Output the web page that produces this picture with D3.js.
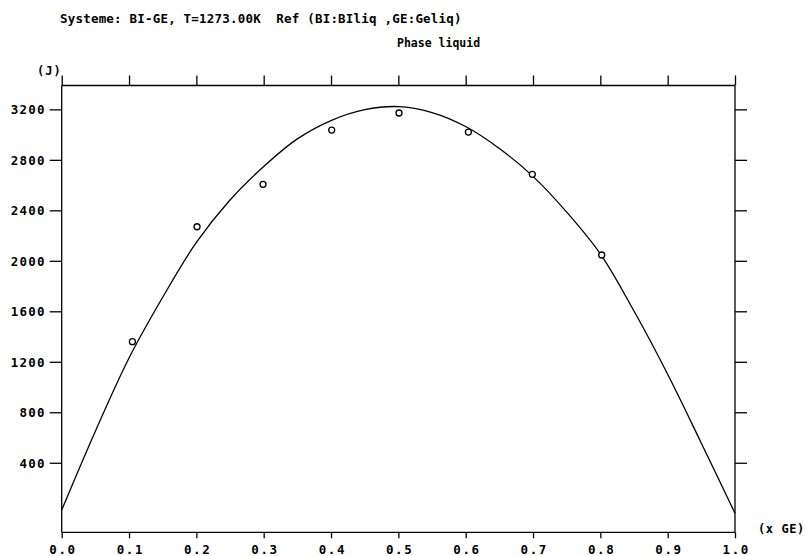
<!DOCTYPE html>
<html>
<head>
<meta charset="utf-8">
<script src="https://cdn.jsdelivr.net/npm/d3@7"></script>
<style>
  html, body { margin: 0; padding: 0; background: #fff; }
  svg { display: block; }
  text { font-family: "DejaVu Sans Mono", monospace; font-weight: bold; fill: #000; white-space: pre; }
</style>
</head>
<body>
<svg id="chart" width="811" height="556"></svg>
<script>
// ---- data ----
const titleText = "Systeme: BI-GE, T=1273.00K  Ref (BI:BIliq ,GE:Geliq)";
const subtitleText = "Phase liquid";
const yUnitLabel = "(J)";
const xUnitLabel = "(x GE)";

const xTicks = [0.0, 0.1, 0.2, 0.3, 0.4, 0.5, 0.6, 0.7, 0.8, 0.9, 1.0];
const yTicks = [400, 800, 1200, 1600, 2000, 2400, 2800, 3200];

// calculated curve (x GE, J)
const curveX = [0, 0.05, 0.1, 0.15, 0.2, 0.25, 0.3, 0.35, 0.4, 0.45, 0.5,
                0.55, 0.6, 0.65, 0.7, 0.75, 0.8, 0.85, 0.9, 0.95, 1.0];
const curveY = [25, 650, 1230, 1711, 2146, 2482, 2747, 2966, 3111, 3197, 3222,
                3175, 3064, 2890, 2669, 2386, 2055, 1602, 1101, 555, 0];

// experimental points
const pointX = [0.105, 0.201, 0.299, 0.401, 0.501, 0.604, 0.699, 0.802];
const pointY = [1359, 2270, 2606, 3036, 3171, 3020, 2685, 2046];

// ---- drawing ----
const svg = d3.select("#chart");
const mLeft = 61.7, mRight = 735, mTop = 85.5, mBottom = 532.3;

const x = d3.scaleLinear().domain([0, 1]).range([mLeft, mRight]);
const y = d3.scaleLinear().domain([-151, 3389]).range([mBottom, mTop]);

const stroke = "#000", sw = 1.3;

// frame
const frame = svg.append("g").attr("stroke", stroke).attr("stroke-width", sw).attr("fill", "none");
frame.append("line").attr("x1", mLeft).attr("x2", mRight).attr("y1", mTop).attr("y2", mTop);
frame.append("line").attr("x1", mLeft).attr("x2", mRight).attr("y1", mBottom).attr("y2", mBottom);
frame.append("line").attr("x1", mLeft).attr("x2", mLeft).attr("y1", mTop).attr("y2", mBottom);
frame.append("line").attr("x1", mRight).attr("x2", mRight).attr("y1", mTop).attr("y2", mBottom);

function styleAxis(g) {
  g.select(".domain").remove();
  g.selectAll(".tick line").attr("stroke", stroke).attr("stroke-width", sw);
  g.selectAll(".tick text")
    .style("font-family", '"DejaVu Sans Mono", monospace')
    .style("font-weight", "bold")
    .style("font-size", "12.5px")
    .attr("fill", "#000");
}

// left axis with labels
svg.append("g")
  .attr("transform", `translate(${mLeft},0)`)
  .call(d3.axisLeft(y).tickValues(yTicks).tickSize(12).tickPadding(4).tickFormat(d3.format("d")))
  .call(styleAxis)
  .call(g => g.selectAll(".tick text").attr("dy", "0.36em").style("letter-spacing", "1.2px"));

// right axis ticks
svg.append("g")
  .attr("transform", `translate(${mRight},0)`)
  .call(d3.axisRight(y).tickValues(yTicks).tickSize(12).tickFormat(""))
  .call(styleAxis);

// top axis ticks
svg.append("g")
  .attr("transform", `translate(0,${mTop})`)
  .call(d3.axisTop(x).tickValues(xTicks).tickSize(10).tickFormat(""))
  .call(styleAxis);

// bottom axis with labels
svg.append("g")
  .attr("transform", `translate(0,${mBottom})`)
  .call(d3.axisBottom(x).tickValues(xTicks).tickSize(6).tickPadding(6.5).tickFormat(d3.format(".1f")))
  .call(styleAxis)
  .call(g => g.selectAll(".tick text").style("letter-spacing", "1.6px").attr("dx", "0.8px"));

// curve
const line = d3.line().curve(d3.curveCatmullRom.alpha(0.5)).x(d => x(d[0])).y(d => y(d[1]));
const curveData = curveX.map((v, i) => [v, curveY[i]]);
svg.append("path")
  .datum(curveData)
  .attr("d", line)
  .attr("fill", "none")
  .attr("stroke", stroke)
  .attr("stroke-width", sw);

// points
svg.append("g").selectAll("circle")
  .data(pointX.map((v, i) => [v, pointY[i]]))
  .join("circle")
  .attr("cx", d => x(d[0]))
  .attr("cy", d => y(d[1]))
  .attr("r", 3)
  .attr("fill", "#fff")
  .attr("stroke", stroke)
  .attr("stroke-width", 1.3);

// texts
svg.append("text").attr("x", 60).attr("y", 23)
  .attr("xml:space", "preserve")
  .style("font-size", "12.5px").style("letter-spacing", "0.2px")
  .text(titleText);
svg.append("text").attr("x", 397).attr("y", 47)
  .style("font-size", "11.5px").style("letter-spacing", "0px")
  .text(subtitleText);
svg.append("text").attr("x", 37).attr("y", 75)
  .style("font-size", "12px").style("letter-spacing", "1px")
  .text(yUnitLabel);
svg.append("text").attr("x", 758).attr("y", 533)
  .style("font-size", "12px").style("letter-spacing", "0.6px")
  .text(xUnitLabel);
</script>
</body>
</html>
